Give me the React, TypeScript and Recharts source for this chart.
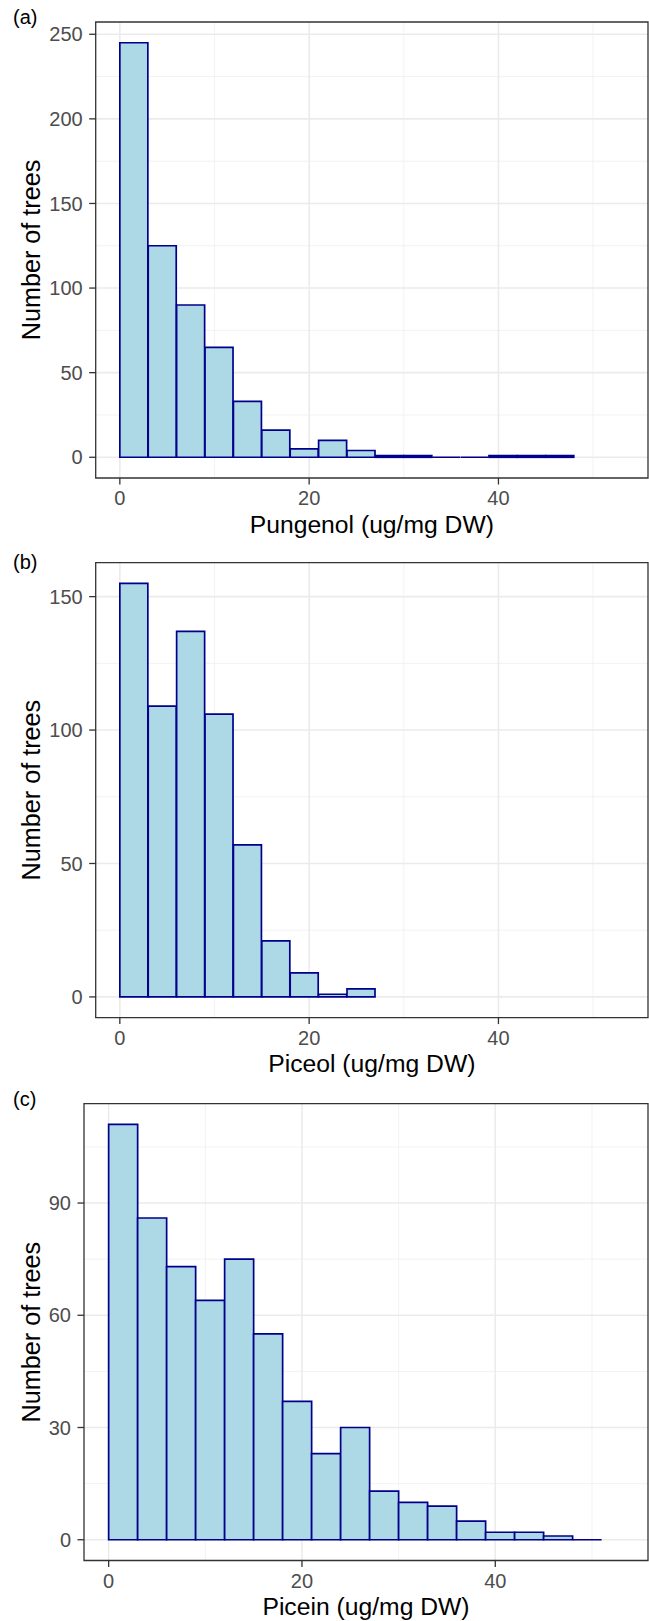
import React from "react";
import { ComposedChart, Bar, XAxis, YAxis, CartesianGrid, ReferenceArea } from "recharts";

// histogram counts, bins of width 3 starting at 0
const BIN_WIDTH = 3;
const pungenolCounts = [245, 125, 90, 65, 33, 16, 5, 10, 4, 1, 1, 0, 0, 1, 1, 1];
const piceolCounts = [155, 109, 137, 106, 57, 21, 9, 1, 3];
const piceinCounts = [111, 86, 73, 64, 75, 55, 37, 23, 30, 13, 10, 9, 5, 2, 2, 1, 0];

const xTicks = [0, 20, 40];
const xMinor = [10, 30, 50];
const X_DOMAIN: [number, number] = [-2.55, 55.8];

const pungenolTicks = [0, 50, 100, 150, 200, 250];
const pungenolMinor = [25, 75, 125, 175, 225];
const piceolTicks = [0, 50, 100, 150];
const piceolMinor = [25, 75, 125];
const piceinTicks = [0, 30, 60, 90];
const piceinMinor = [15, 45, 75, 105];

const FONT = "'Liberation Sans', Arial, sans-serif";
const FILL = "#add8e6";
const EDGE = "#00008b";

const HistBar = (props: any) => {
  const { x, y, width } = props;
  const h = props.height || 0;
  return (
    <path
      d={`M${x},${y + h}V${y}H${x + width}V${y + h}Z`}
      fill={FILL}
      stroke={EDGE}
      strokeWidth={1.7}
    />
  );
};

function toBins(counts: number[]) {
  return counts.map((count, i) => ({ mid: i * BIN_WIDTH + BIN_WIDTH / 2, count }));
}

function Panel({ counts, yDomain, yTicks, yMinor, top, height, frameTop, frameBottom, plotLeft }: any) {
  const data = toBins(counts);
  const tickStyle = { fill: "#4d4d4d", fontSize: 20, fontFamily: FONT };
  return (
    <div style={{ position: "absolute", left: 0, top, width: 649, height }}>
      <ComposedChart
        width={649}
        height={height}
        data={data}
        margin={{ top: frameTop - top, right: 1, bottom: 0, left: 0 }}
        barCategoryGap={0}
        barGap={0}
      >
        <CartesianGrid horizontalValues={yMinor} verticalValues={xMinor} stroke="#f0f0f0" strokeWidth={0.9} />
        <CartesianGrid horizontalValues={yTicks} verticalValues={xTicks} stroke="#ebebeb" strokeWidth={1.6} />
        <XAxis
          type="number"
          dataKey="mid"
          domain={X_DOMAIN}
          allowDataOverflow
          ticks={xTicks}
          interval={0}
          height={top + height - frameBottom}
          axisLine={false}
          tickLine={{ stroke: "#333333", strokeWidth: 1.3 }}
          tickSize={6.5}
          tickMargin={6.5}
          tick={tickStyle}
        />
        <YAxis
          type="number"
          domain={yDomain}
          allowDataOverflow
          ticks={yTicks}
          interval={0}
          width={plotLeft}
          axisLine={false}
          tickLine={{ stroke: "#333333", strokeWidth: 1.3 }}
          tickSize={6.5}
          tickMargin={6.5}
          tick={tickStyle}
        />
        <Bar dataKey="count" fill={FILL} isAnimationActive={false} shape={HistBar} />
        <ReferenceArea
          x1={X_DOMAIN[0]}
          x2={X_DOMAIN[1]}
          y1={yDomain[0]}
          y2={yDomain[1]}
          fill="none"
          stroke="#333333"
          strokeWidth={1.3}
          ifOverflow="visible"
        />
      </ComposedChart>
    </div>
  );
}

const panels = [
  {
    tag: "(a)", title: "Pungenol (ug/mg DW)", counts: pungenolCounts,
    yDomain: [-12.25, 257.25], yTicks: pungenolTicks, yMinor: pungenolMinor,
    top: 0, height: 545, frameTop: 22, frameBottom: 478, plotLeft: 95.7, tagY: 23.5,
  },
  {
    tag: "(b)", title: "Piceol (ug/mg DW)", counts: piceolCounts,
    yDomain: [-7.75, 162.75], yTicks: piceolTicks, yMinor: piceolMinor,
    top: 545, height: 540, frameTop: 562.6, frameBottom: 1017.6, plotLeft: 95.7, tagY: 569,
  },
  {
    tag: "(c)", title: "Picein (ug/mg DW)", counts: piceinCounts,
    yDomain: [-5.55, 116.55], yTicks: piceinTicks, yMinor: piceinMinor,
    top: 1085, height: 536, frameTop: 1103.7, frameBottom: 1560.5, plotLeft: 84, tagY: 1106,
  },
];

export default function App() {
  return (
    <div style={{ position: "absolute", left: 0, top: 0, width: 649, height: 1621, background: "#fff", fontFamily: FONT }}>
      {panels.map((p) => (
        <Panel key={p.tag} {...p} />
      ))}
      <svg width={649} height={1621} style={{ position: "absolute", left: 0, top: 0, pointerEvents: "none" }}>
        {panels.map((p) => {
          const cx = (p.plotLeft + 648) / 2;
          const cy = (p.frameTop + p.frameBottom) / 2;
          return (
            <g key={p.tag} fontFamily={FONT}>
              <text x={13} y={p.tagY} fontSize={20} fill="#000">{p.tag}</text>
              <text x={cx} y={p.frameBottom + 54.7} fontSize={24.7} textAnchor="middle" fill="#000">{p.title}</text>
              <text transform={`translate(39.5, ${cy}) rotate(-90)`} fontSize={25.2} textAnchor="middle" fill="#000">
                Number of trees
              </text>
            </g>
          );
        })}
      </svg>
    </div>
  );
}
